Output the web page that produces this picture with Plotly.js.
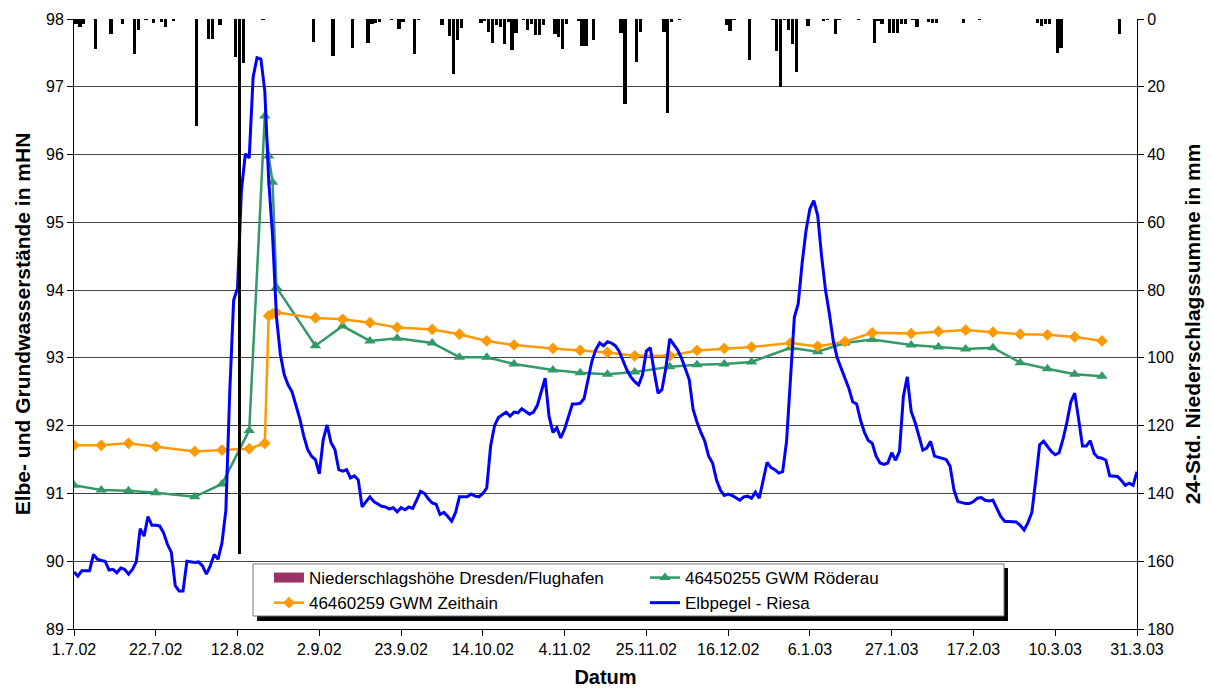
<!DOCTYPE html>
<html>
<head>
<meta charset="utf-8">
<script src="https://cdn.plot.ly/plotly-3.0.1.min.js"></script>
<style>
html,body{margin:0;padding:0;background:#fff;}
#chart{width:1212px;height:689px;}
</style>
</head>
<body>
<div id="chart"></div>
<script>
// ---------- DATA ----------
const seriesNames = {
  rain: "Niederschlagshöhe Dresden/Flughafen",
  roederau: "46450255 GWM Röderau",
  zeithain: "46460259 GWM Zeithain",
  elbe: "Elbpegel - Riesa"
};

// Daily precipitation (mm), only days with rain
const rainDates = [
 "2002-07-01","2002-07-02","2002-07-03","2002-07-06","2002-07-10","2002-07-13","2002-07-16","2002-07-17","2002-07-19","2002-07-21",
 "2002-07-23","2002-07-24","2002-07-26","2002-08-01","2002-08-04","2002-08-05","2002-08-07","2002-08-11","2002-08-12","2002-08-13",
 "2002-08-18","2002-08-31","2002-09-05","2002-09-10","2002-09-14","2002-09-15","2002-09-16","2002-09-17","2002-09-20","2002-09-22",
 "2002-09-23","2002-09-26","2002-09-27","2002-10-03","2002-10-05","2002-10-06","2002-10-07","2002-10-08","2002-10-13","2002-10-14",
 "2002-10-15","2002-10-16","2002-10-17","2002-10-18","2002-10-19","2002-10-20","2002-10-21","2002-10-22","2002-10-24","2002-10-25",
 "2002-10-26","2002-10-27","2002-10-28","2002-10-29","2002-11-01","2002-11-02","2002-11-03","2002-11-04","2002-11-07","2002-11-08",
 "2002-11-09","2002-11-11","2002-11-18","2002-11-19","2002-11-22","2002-11-23","2002-11-29","2002-11-30","2002-12-01","2002-12-03",
 "2002-12-15","2002-12-16","2002-12-17","2002-12-21","2002-12-27","2002-12-28","2002-12-29","2002-12-30","2002-12-31","2003-01-01",
 "2003-01-02","2003-01-05","2003-01-09","2003-01-10","2003-01-12","2003-01-13","2003-01-18","2003-01-22","2003-01-23","2003-01-24",
 "2003-01-26","2003-01-27","2003-01-28","2003-01-29","2003-01-30","2003-02-01","2003-02-02","2003-02-05","2003-02-06","2003-02-07",
 "2003-02-14","2003-02-18","2003-03-05","2003-03-06","2003-03-07","2003-03-08","2003-03-10","2003-03-11","2003-03-26"
];
const rainMm = [
 1.4,2.4,1.6,8.8,4.5,1.4,10.4,3.3,0.4,1.3,
 1.0,2.4,0.5,31.7,5.8,5.8,1.8,11.1,158,13,
 0.4,6.7,11,8.6,7,1.4,1.3,0.8,0.4,3,
 0.8,10.4,0.4,1.8,4.9,16.3,6.1,2.7,1.3,0.6,
 3.7,7,1.8,2.4,7.3,0.9,9.2,4.2,0.4,3.3,
 1.4,4.7,4.7,1.9,4.5,5.3,8.9,1.6,0.6,8.1,
 7.9,6.3,4.2,25,12.8,3.7,3.7,27.6,0.8,0.4,
 1.9,3.5,0.4,12,0.2,9.4,20,0.4,3.3,7.4,
 15.5,2.1,0.5,0.3,4.5,0.4,0.4,7.2,0.6,1.6,
 4.2,4.2,4.2,1.6,1.6,0.4,2.3,0.8,1.3,1.3,
 1.3,0.4,1.1,2,1.4,1.4,10,8.6,4.5
];

// Groundwater measurement dates (shared by both wells)
const gwmDates = [
 "2002-07-01","2002-07-08","2002-07-15","2002-07-22","2002-08-01","2002-08-08","2002-08-15","2002-08-19","2002-08-20","2002-08-21",
 "2002-08-22","2002-09-01","2002-09-08","2002-09-15","2002-09-22","2002-10-01","2002-10-08","2002-10-15","2002-10-22","2002-11-01",
 "2002-11-08","2002-11-15","2002-11-22","2002-12-01","2002-12-08","2002-12-15","2002-12-22","2003-01-01","2003-01-08","2003-01-15",
 "2003-01-22","2003-02-01","2003-02-08","2003-02-15","2003-02-22","2003-03-01","2003-03-08","2003-03-15","2003-03-22"
];
const roederauLevels = [
 91.12,91.05,91.04,91.01,90.95,91.14,91.93,96.57,95.98,95.59,
 94.04,93.18,93.47,93.25,93.29,93.22,93.01,93.01,92.91,92.82,
 92.78,92.76,92.79,92.87,92.90,92.91,92.94,93.15,93.09,93.22,
 93.27,93.19,93.16,93.13,93.15,92.93,92.84,92.76,92.73
];
const zeithainLevels = [
 91.71,91.71,91.74,91.69,91.62,91.64,91.66,91.74,93.62,93.65,
 93.67,93.59,93.57,93.52,93.45,93.42,93.35,93.25,93.19,93.14,
 93.11,93.08,93.03,93.03,93.11,93.14,93.16,93.22,93.17,93.24,
 93.37,93.36,93.39,93.41,93.38,93.35,93.34,93.31,93.25
];

// Elbe gauge Riesa, daily from 1.7.2002 to 31.3.2003
const elbeStart = "2002-07-01";
const elbeLevels = [
 89.84,89.78,89.86,89.86,89.86,90.10,90.03,90.01,90.00,89.87,
 89.88,89.83,89.90,89.88,89.81,89.88,89.99,90.48,90.37,90.66,
 90.53,90.53,90.52,90.42,90.25,90.13,89.64,89.56,89.56,90.00,
 89.99,89.98,89.99,89.93,89.81,89.93,90.10,90.03,90.27,90.75,
 92.50,93.85,94.03,95.47,96.01,95.95,97.14,97.43,97.41,96.94,
 95.62,94.80,93.60,93.05,92.75,92.60,92.50,92.30,92.10,91.85,
 91.65,91.55,91.50,91.29,91.79,92.01,91.75,91.65,91.35,91.33,
 91.35,91.23,91.26,91.20,90.80,90.88,90.95,90.88,90.84,90.81,
 90.80,90.77,90.79,90.73,90.79,90.76,90.80,90.78,90.90,91.03,
 91.00,90.92,90.86,90.84,90.69,90.72,90.66,90.59,90.72,90.95,
 90.95,90.95,90.99,90.96,90.95,91.00,91.08,91.70,92.00,92.12,
 92.16,92.20,92.14,92.20,92.19,92.25,92.21,92.17,92.20,92.30,
 92.50,92.70,92.14,91.90,91.97,91.82,91.95,92.15,92.32,92.32,
 92.33,92.40,92.70,92.95,93.12,93.22,93.18,93.24,93.22,93.18,
 93.10,92.95,92.82,92.72,92.65,92.60,92.75,93.10,93.15,92.80,
 92.48,92.53,92.85,93.28,93.20,93.12,93.00,92.85,92.68,92.24,
 92.05,91.90,91.77,91.55,91.45,91.20,91.05,90.97,90.99,90.97,
 90.94,90.90,90.95,90.96,90.93,91.02,90.93,91.20,91.46,91.38,
 91.35,91.30,91.32,91.77,92.68,93.60,93.80,94.40,94.88,95.20,
 95.32,95.10,94.50,94.00,93.65,93.25,93.00,92.85,92.70,92.55,
 92.35,92.32,92.08,91.90,91.78,91.74,91.55,91.45,91.43,91.45,
 91.60,91.49,91.62,92.43,92.72,92.21,92.05,91.85,91.64,91.67,
 91.77,91.55,91.53,91.51,91.50,91.40,91.05,90.88,90.86,90.85,
 90.85,90.88,90.93,90.94,90.90,90.89,90.90,90.78,90.66,90.59,
 90.59,90.59,90.58,90.53,90.46,90.57,90.72,91.20,91.72,91.77,
 91.70,91.62,91.57,91.60,91.80,92.05,92.35,92.48,92.10,91.70,
 91.70,91.78,91.59,91.53,91.52,91.49,91.26,91.25,91.25,91.19,
 91.12,91.15,91.12,91.32
];

const xTickStart = "2002-07-01";
const xRangeEnd = "2003-03-31";

// ---------- BUILD ----------
const DAY = 86400000;
const elbeDates = elbeLevels.map((_, i) => {
  const d = new Date(Date.parse(elbeStart + "T00:00:00Z") + i * DAY);
  return d.toISOString().slice(0, 10);
});

const FONT = "Liberation Sans, Arial, Helvetica, sans-serif";

const traces = [
  { // legend entry for precipitation (Excel-style block swatch)
    type: "scatter", mode: "lines", x: [null], y: [null], yaxis: "y2",
    name: seriesNames.rain,
    line: { color: "#993366", width: 13 },
    hoverinfo: "skip"
  },
  {
    type: "scatter", mode: "lines+markers", x: gwmDates, y: roederauLevels,
    name: seriesNames.roederau,
    line: { color: "#339966", width: 2.5 },
    marker: { symbol: "triangle-up", size: 10, color: "#339966" }
  },
  {
    type: "scatter", mode: "lines+markers", x: gwmDates, y: zeithainLevels,
    name: seriesNames.zeithain,
    line: { color: "#FF9900", width: 2.5 },
    marker: { symbol: "diamond", size: 9, color: "#FF9900" }
  },
  {
    type: "scatter", mode: "lines", x: elbeDates, y: elbeLevels,
    name: seriesNames.elbe,
    line: { color: "#0000FF", width: 3 }
  },
  {
    type: "bar", x: rainDates, y: rainMm, yaxis: "y2",
    name: seriesNames.rain, showlegend: false,
    xperiod: DAY, xperiodalignment: "middle",
    width: 0.85 * DAY,
    marker: { color: "#000000", line: { width: 0 } }
  }
];

const layout = {
  width: 1212, height: 689,
  margin: { l: 74, r: 75, t: 19, b: 60 },
  paper_bgcolor: "#fff", plot_bgcolor: "#fff",
  font: { family: FONT, size: 16, color: "#000" },
  showlegend: true,
  bargap: 0,
  xaxis: {
    type: "date",
    range: [xTickStart, xRangeEnd],
    tick0: xTickStart, dtick: 21 * DAY,
    tickformat: "%-d.%-m.%y",
    ticks: "outside", ticklen: 6, tickcolor: "#000",
    showline: true, linecolor: "#000", linewidth: 1,
    showgrid: false, zeroline: false,
    tickfont: { size: 16 },
    automargin: false,
    title: { text: "<b>Datum</b>", font: { size: 20 }, standoff: 12 }
  },
  yaxis: {
    range: [89, 98], dtick: 1,
    ticks: "outside", ticklen: 6, tickcolor: "#000",
    showline: true, linecolor: "#000", linewidth: 1,
    showgrid: true, gridcolor: "#444", gridwidth: 1,
    zeroline: false,
    tickfont: { size: 16 },
    automargin: false,
    title: { text: "<b>Elbe- und Grundwasserstände in mHN</b>", font: { size: 21 }, standoff: 9 }
  },
  yaxis2: {
    overlaying: "y", side: "right",
    range: [180, 0], dtick: 20,
    ticks: "outside", ticklen: 6, tickcolor: "#000",
    showline: true, linecolor: "#000", linewidth: 1,
    showgrid: false, zeroline: false,
    tickfont: { size: 16 },
    automargin: false,
    title: { text: "<b>24-Std. Niederschlagssumme in mm</b>", font: { size: 21 }, standoff: 12 }
  },
  legend: {
    orientation: "h",
    x: 0.1834, xanchor: "left",
    y: 0.1131, yanchor: "top",
    bgcolor: "rgba(0,0,0,0)", borderwidth: 0,
    font: { size: 17 },
    entrywidth: 331, entrywidthmode: "pixels",
    traceorder: "normal",
    tracegroupgap: 0
  },
  shapes: [
    // Excel-style legend frame: drop shadow, then white box with grey border
    { type: "rect", xref: "paper", yref: "paper", layer: "above",
      x0: 0.1722, x1: 0.8786, y0: 0.0131, y1: 0.1000,
      fillcolor: "#000", line: { width: 0 } },
    { type: "rect", xref: "paper", yref: "paper", layer: "above",
      x0: 0.1684, x1: 0.8749, y0: 0.0213, y1: 0.1066,
      fillcolor: "#fff", line: { color: "#777", width: 1 } }
  ]
};

Plotly.newPlot("chart", traces, layout, { displayModeBar: false, staticPlot: true });
</script>
</body>
</html>
